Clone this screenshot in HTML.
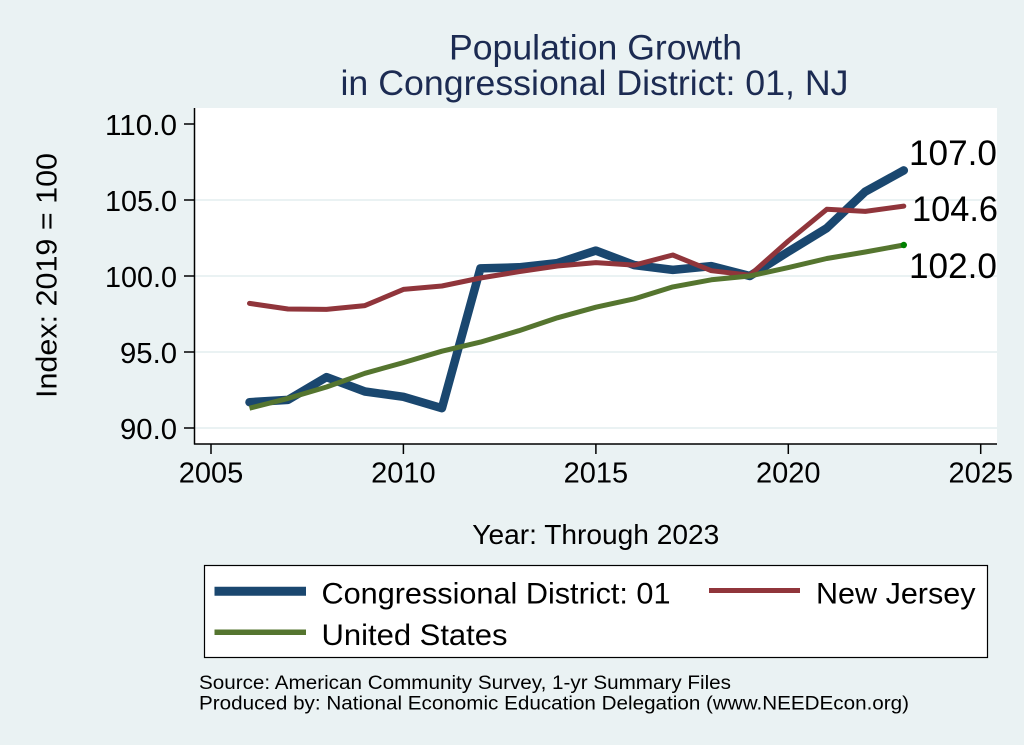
<!DOCTYPE html>
<html>
<head>
<meta charset="utf-8">
<style>
  html, body { margin: 0; padding: 0; background: #EAF2F3; }
  svg { display: block; }
  text { font-family: "Liberation Sans", Arial, Helvetica, sans-serif; }
</style>
</head>
<body>
<svg width="1024" height="745" viewBox="0 0 1024 745" xmlns="http://www.w3.org/2000/svg">
  <rect x="0" y="0" width="1024" height="745" fill="#EAF2F3"/>
  <!-- plot region -->
  <rect x="194.5" y="108" width="802.5" height="336" fill="#FFFFFF"/>

  <!-- gridlines -->
  <g stroke="#EAF2F3" stroke-width="2">
    <line x1="195" y1="200" x2="997" y2="200"/>
    <line x1="195" y1="276" x2="997" y2="276"/>
    <line x1="195" y1="352" x2="997" y2="352"/>
    <line x1="195" y1="428" x2="997" y2="428"/>
  </g>

  <!-- series: CD 01 -->
  <polyline fill="none" stroke="#1A476F" stroke-width="8.5" stroke-linejoin="round" stroke-linecap="round"
    points="249.5,402.2 288.0,399.9 326.5,377.1 364.9,391.5 403.4,396.8 441.9,408.2 480.4,268.4 518.9,267.3 557.4,263.1 595.9,250.6 634.3,265.1 672.8,269.9 711.3,266.1 749.8,276.0 788.3,251.7 826.8,228.1 865.3,191.6 903.8,170.4"/>
  <!-- series: New Jersey -->
  <polyline fill="none" stroke="#90353B" stroke-width="5" stroke-linejoin="round" stroke-linecap="round"
    points="249.5,303.4 288.0,309.0 326.5,309.4 364.9,305.6 403.4,289.4 441.9,286.0 480.4,278.0 518.9,271.7 557.4,266.0 595.9,262.6 634.3,265.1 672.8,255.0 711.3,270.7 749.8,275.2 788.3,241.0 826.8,209.3 865.3,211.4 903.8,206.1"/>
  <!-- series: United States -->
  <polyline fill="none" stroke="#55752F" stroke-width="5" stroke-linejoin="round" stroke-linecap="butt"
    points="249.5,408.2 288.0,398.4 326.5,387.0 364.9,373.3 403.4,362.6 441.9,351.2 480.4,342.1 518.9,330.7 557.4,317.8 595.9,307.2 634.3,298.8 672.8,286.9 711.3,279.8 749.8,276.0 788.3,267.6 826.8,258.5 865.3,252.0 903.8,245.0"/>
  <circle cx="903.8" cy="245" r="3.2" fill="#008000"/>

  <!-- end labels -->
  <g font-size="35" fill="#000">
    <text x="909" y="165" textLength="88" lengthAdjust="spacingAndGlyphs">107.0</text>
    <text x="912" y="221" textLength="86" lengthAdjust="spacingAndGlyphs">104.6</text>
    <text x="909" y="278" textLength="88" lengthAdjust="spacingAndGlyphs">102.0</text>
  </g>

  <!-- axes -->
  <g stroke="#000" stroke-width="1.5">
    <line x1="194.5" y1="108" x2="194.5" y2="444.5"/>
    <line x1="194" y1="444" x2="997" y2="444"/>
    <!-- y ticks -->
    <line x1="184" y1="124" x2="194.5" y2="124"/>
    <line x1="184" y1="200" x2="194.5" y2="200"/>
    <line x1="184" y1="276" x2="194.5" y2="276"/>
    <line x1="184" y1="352" x2="194.5" y2="352"/>
    <line x1="184" y1="428" x2="194.5" y2="428"/>
    <!-- x ticks -->
    <line x1="211" y1="444" x2="211" y2="454"/>
    <line x1="403.4" y1="444" x2="403.4" y2="454"/>
    <line x1="595.9" y1="444" x2="595.9" y2="454"/>
    <line x1="788.3" y1="444" x2="788.3" y2="454"/>
    <line x1="980.7" y1="444" x2="980.7" y2="454"/>
  </g>

  <!-- y tick labels -->
  <g font-size="29" fill="#000" text-anchor="end">
    <text x="177" y="135" textLength="72" lengthAdjust="spacingAndGlyphs">110.0</text>
    <text x="177" y="211" textLength="72" lengthAdjust="spacingAndGlyphs">105.0</text>
    <text x="177" y="287" textLength="72" lengthAdjust="spacingAndGlyphs">100.0</text>
    <text x="177" y="363" textLength="57" lengthAdjust="spacingAndGlyphs">95.0</text>
    <text x="177" y="439" textLength="57" lengthAdjust="spacingAndGlyphs">90.0</text>
  </g>

  <!-- x tick labels -->
  <g font-size="29" fill="#000" text-anchor="middle">
    <text x="211" y="482.5">2005</text>
    <text x="403.4" y="482.5">2010</text>
    <text x="595.9" y="482.5">2015</text>
    <text x="788.3" y="482.5">2020</text>
    <text x="980.7" y="482.5">2025</text>
  </g>

  <!-- axis titles -->
  <text x="0" y="0" font-size="29" fill="#000" text-anchor="middle"
        transform="translate(56.5,275.5) rotate(-90)" textLength="245" lengthAdjust="spacingAndGlyphs">Index: 2019 = 100</text>
  <text x="595.8" y="544" font-size="28" fill="#000" text-anchor="middle" textLength="247" lengthAdjust="spacingAndGlyphs">Year: Through 2023</text>

  <!-- title -->
  <g font-size="35.5" fill="#1C2B52" text-anchor="middle">
    <text x="595.5" y="59.5" textLength="293" lengthAdjust="spacingAndGlyphs">Population Growth</text>
    <text x="594.5" y="95" textLength="508" lengthAdjust="spacingAndGlyphs">in Congressional District: 01, NJ</text>
  </g>

  <!-- legend -->
  <rect x="204.5" y="565.5" width="783" height="92" fill="#FFFFFF" stroke="#000" stroke-width="1.2"/>
  <line x1="214.5" y1="591.3" x2="306" y2="591.3" stroke="#1A476F" stroke-width="9"/>
  <line x1="709" y1="590.5" x2="800" y2="590.5" stroke="#90353B" stroke-width="5"/>
  <line x1="214.5" y1="632.2" x2="306" y2="632.2" stroke="#55752F" stroke-width="5.5"/>
  <g font-size="30" fill="#000">
    <text x="321.5" y="603.5" textLength="349" lengthAdjust="spacingAndGlyphs">Congressional District: 01</text>
    <text x="816" y="603.5" textLength="159.5" lengthAdjust="spacingAndGlyphs">New Jersey</text>
    <text x="321.5" y="645" textLength="186" lengthAdjust="spacingAndGlyphs">United States</text>
  </g>

  <!-- notes -->
  <g font-size="19" fill="#000">
    <text x="199" y="689" textLength="532" lengthAdjust="spacingAndGlyphs">Source: American Community Survey, 1-yr Summary Files</text>
    <text x="199" y="709.5" textLength="710" lengthAdjust="spacingAndGlyphs">Produced by: National Economic Education Delegation (www.NEEDEcon.org)</text>
  </g>
</svg>
</body>
</html>
